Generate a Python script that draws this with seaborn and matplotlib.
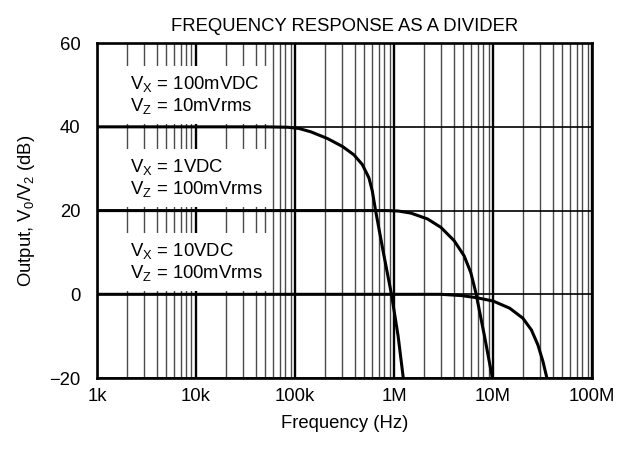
import pandas as pd
import matplotlib
matplotlib.use("Agg")
import matplotlib.pyplot as plt
import matplotlib.ticker as mticker
import seaborn as sns

# curve data (frequency in Hz, gain in dB)
freq_1 = [1e3, 5e4, 8.5e4, 1.1e5, 1.45e5, 2.13e5, 3.02e5, 3.94e5, 4.78e5, 5.58e5, 6.03e5, 6.51e5, 7.8e5, 9.42e5, 1.1e6, 1.24e6]
gain_1 = [40, 40, 39.9, 39.6, 38.8, 37.2, 35.3, 33.3, 31.0, 27.8, 24.7, 20.0, 10.0, 0.0, -10.0, -20.0]

freq_2 = [1e3, 8.5e5, 1.1e6, 1.48e6, 2.18e6, 2.97e6, 4.05e6, 5.1e6, 5.96e6, 6.7e6, 8.2e6, 9.85e6]
gain_2 = [20, 20, 19.9, 19.4, 18.0, 16.0, 12.8, 9.2, 5.2, 0.4, -10.0, -20.0]

freq_3 = [1e3, 3.0e6, 4.8e6, 6.8e6, 1.0e7, 1.47e7, 2.0e7, 2.44e7, 2.84e7, 3.19e7, 3.5e7]
gain_3 = [0, 0, -0.3, -0.8, -1.6, -3.3, -5.7, -8.5, -12.1, -16.0, -20.0]

labels = [
    "V$_X$ = 100mVDC\nV$_Z$ = 10mVrms",
    "V$_X$ = 1VDC\nV$_Z$ = 100mVrms",
    "V$_X$ = 10VDC\nV$_Z$ = 100mVrms",
]
label_y = [47.6, 27.8, 7.7]

x_ticks = [1e3, 1e4, 1e5, 1e6, 1e7, 1e8]
x_tick_labels = ["1k", "10k", "100k", "1M", "10M", "100M"]
y_ticks = [-20, 0, 20, 40, 60]

df = pd.concat([
    pd.DataFrame({"freq": freq_1, "gain": gain_1, "curve": "a"}),
    pd.DataFrame({"freq": freq_2, "gain": gain_2, "curve": "b"}),
    pd.DataFrame({"freq": freq_3, "gain": gain_3, "curve": "c"}),
])

sns.set_theme(style="white")
plt.rcParams["font.family"] = ["Liberation Sans", "DejaVu Sans"]
plt.rcParams["mathtext.default"] = "regular"
fs = 13.3

fig = plt.figure(figsize=(6.18, 4.49), dpi=100)
ax = fig.add_axes([0.157, 0.158, 0.801, 0.746])

sns.lineplot(data=df, x="freq", y="gain", hue="curve", units="curve", estimator=None,
             sort=False, palette=["black"] * 3, linewidth=2.2, legend=False, ax=ax, zorder=4)

ax.set_xscale("log")
ax.set_xlim(1e3, 1e8)
ax.set_ylim(-20, 60)
ax.set_xticks(x_ticks)
ax.set_xticklabels(x_tick_labels)
ax.xaxis.set_minor_locator(mticker.LogLocator(base=10, subs=range(2, 10), numticks=20))
ax.xaxis.set_minor_formatter(mticker.NullFormatter())
ax.set_yticks(y_ticks)
ax.set_yticklabels([f"{v}".replace("-", "\u2212") for v in y_ticks])

ax.set_axisbelow(True)
ax.grid(which="major", axis="x", color="black", linewidth=1.7)
ax.grid(which="minor", axis="x", color="#4a4a4a", linewidth=1.0)
ax.grid(which="major", axis="y", color="black", linewidth=1.2)

ax.tick_params(axis="both", which="both", length=0, labelsize=fs, labelcolor="black")
ax.tick_params(axis="x", pad=7)
ax.tick_params(axis="y", pad=12)
for s in ax.spines.values():
    s.set_visible(True)
    s.set_color("black")
    s.set_linewidth(1.9)

for text, y in zip(labels, label_y):
    ax.text(2.15e3, y, text, fontsize=fs, va="center", ha="left", linespacing=1.1, zorder=3,
            color="black",
            bbox=dict(boxstyle="square,pad=0.45", facecolor="white", edgecolor="none"))

ax.set_title("FREQUENCY RESPONSE AS A DIVIDER", fontsize=fs, pad=9, color="black")
ax.set_xlabel("Frequency (Hz)", fontsize=fs, labelpad=7, color="black")
ax.set_ylabel("Output, V$_0$/V$_2$ (dB)", fontsize=fs, labelpad=9, color="black")

fig.savefig("out.png", dpi=100)
